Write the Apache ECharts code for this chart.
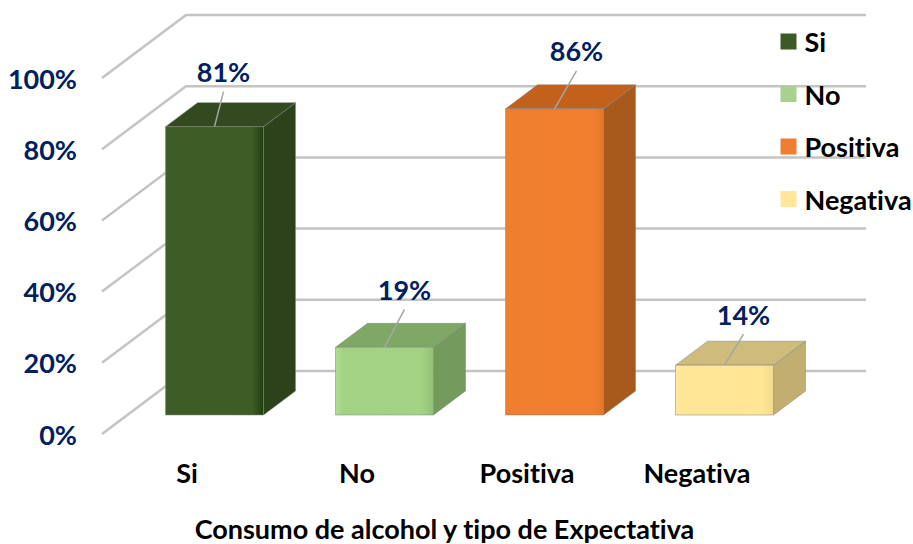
<!DOCTYPE html>
<html>
<head>
<meta charset="utf-8">
<title>Consumo de alcohol y tipo de Expectativa</title>
<style>
  html, body { margin: 0; padding: 0; background: #fff; }
  #chart { width: 913px; height: 544px; }
  /* Lato joins "ti" otherwise */
  #chart text { font-variant-ligatures: none; }
</style>
<script src="https://cdn.jsdelivr.net/npm/echarts@6/dist/echarts.min.js"></script>
</head>
<body>
<div id="chart"></div>
<script>
const categories = ['Si', 'No', 'Positiva', 'Negativa']
const values = [81, 19, 86, 14]
const yTicks = [0, 20, 40, 60, 80, 100]
const titleText = 'Consumo de alcohol y tipo de Expectativa'

// front, top, side colours of each bar
const frontStops = [
  ['#3f5f27', '#3d5c26', '#3f5e27', '#1f3f10'],
  ['#aede8c', '#a3d285', '#a2d383', '#93c079'],
  ['#f0802f', '#ef7e2f', '#f17f2e', '#e5772b'],
  ['#ffe9a0', '#ffe596', '#ffe695', '#f3da8d']
]
const topColors = ['#33491f', '#7fa866', '#c2601c', '#cfbb7b']
const sideColors = ['#2b421a', '#759a5e', '#a8591c', '#c2ae70']
const legendColors = ['#3c5a24', '#a9d18e', '#ed7d31', '#ffe699']

// label offset from the middle of the bar's front top edge
const labelDx = [9, 20, 22, 19]
const labelDy = [-55, -58, -58, -51]

const fontName = 'Lato'
const fontSize = 27
const navy = '#002060'
const gridColor = '#c4c4c4'
const edgeColor = 'rgba(130,130,130,0.5)'

// oblique projection: how far the back wall is from the front plane
const wallDx = 84
const wallDy = -63
// where the bars sit on the floor, and how deep they are
const barDx = 27.5
const barDy = -19
const depthDx = 32
const depthDy = -24
const barRatio = 98 / 170

function renderGrid(params, api) {
  const p = api.coord([api.value(0), api.value(1)])
  const x0 = params.coordSys.x
  const y = p[1]
  return {
    type: 'polyline',
    shape: {
      points: [
        [x0, y],
        [x0 + wallDx, y + wallDy],
        [x0 + params.coordSys.width + wallDx, y + wallDy]
      ]
    },
    style: { stroke: gridColor, lineWidth: 2.5, fill: null }
  }
}

function renderBar(params, api, i) {
  const band = api.size([1, 0])[0]
  const base = api.coord([api.value(0), 0])
  const top = api.coord([api.value(0), api.value(1)])
  const w = band * barRatio
  const l = base[0] - w / 2 + barDx
  const r = l + w
  const b = base[1] + barDy
  const t = top[1] + barDy
  const s = frontStops[i]
  const midX = l + w / 2
  return {
    type: 'group',
    children: [
      {
        type: 'polygon',
        shape: { points: [[r, t], [r + depthDx, t + depthDy], [r + depthDx, b + depthDy], [r, b]] },
        style: { fill: sideColors[i], stroke: edgeColor, lineWidth: 1 }
      },
      {
        type: 'polygon',
        shape: { points: [[l, t], [l + depthDx, t + depthDy], [r + depthDx, t + depthDy], [r, t]] },
        style: { fill: topColors[i], stroke: edgeColor, lineWidth: 1 }
      },
      {
        type: 'rect',
        shape: { x: l, y: t, width: w, height: b - t },
        style: {
          fill: new echarts.graphic.LinearGradient(0, 0, 1, 0, [
            { offset: 0, color: s[0] },
            { offset: 0.08, color: s[1] },
            { offset: 0.88, color: s[2] },
            { offset: 1, color: s[3] }
          ]),
          stroke: edgeColor,
          lineWidth: 1
        }
      },
      {
        type: 'line',
        shape: { x1: midX + labelDx[i], y1: t + labelDy[i] + 20, x2: midX, y2: t },
        style: { stroke: '#a6a6a6', lineWidth: 1.5 }
      },
      {
        type: 'text',
        style: {
          x: midX + labelDx[i],
          y: t + labelDy[i],
          text: api.value(1) + '%',
          fill: navy,
          font: 'bold ' + fontSize + 'px ' + fontName,
          align: 'center',
          verticalAlign: 'middle'
        }
      }
    ]
  }
}

const chart = echarts.init(document.getElementById('chart'), null, { renderer: 'svg' })

const barSeries = categories.map(function (name, i) {
  return {
    name: name,
    type: 'custom',
    z: 3,
    silent: true,
    itemStyle: { color: legendColors[i] },
    data: [[name, values[i]]],
    renderItem: function (params, api) {
      return renderBar(params, api, i)
    }
  }
})

chart.setOption({
  animation: false,
  backgroundColor: '#fff',
  title: {
    text: titleText,
    left: 439.5,
    top: 510,
    textAlign: 'center',
    textStyle: { color: '#000', fontFamily: fontName, fontWeight: 'bold', fontSize: fontSize }
  },
  legend: {
    data: categories,
    orient: 'vertical',
    left: 775.5,
    top: 23,
    itemWidth: 16,
    itemHeight: 16,
    itemGap: 25.5,
    icon: 'rect',
    selectedMode: false,
    textStyle: { color: '#000', fontFamily: fontName, fontWeight: 'bold', fontSize: fontSize, padding: [0, 0, 0, 3] }
  },
  grid: { left: 102, top: 78, width: 680, height: 356 },
  xAxis: {
    type: 'category',
    data: categories,
    axisLine: { show: false },
    axisTick: { show: false },
    axisLabel: { color: '#000', fontFamily: fontName, fontWeight: 'bold', fontSize: fontSize, margin: 25 }
  },
  yAxis: {
    type: 'value',
    min: 0,
    max: 100,
    interval: 20,
    axisLine: { show: false },
    axisTick: { show: false },
    splitLine: { show: false },
    axisLabel: {
      color: navy,
      fontFamily: fontName,
      fontWeight: 'bold',
      fontSize: fontSize,
      margin: 25,
      padding: [5, 0, 0, 0],
      formatter: '{value}%'
    }
  },
  series: [
    {
      name: 'grid',
      type: 'custom',
      z: 1,
      silent: true,
      data: yTicks.map(function (v) { return [categories[0], v] }),
      renderItem: renderGrid
    }
  ].concat(barSeries)
})
</script>
</body>
</html>
